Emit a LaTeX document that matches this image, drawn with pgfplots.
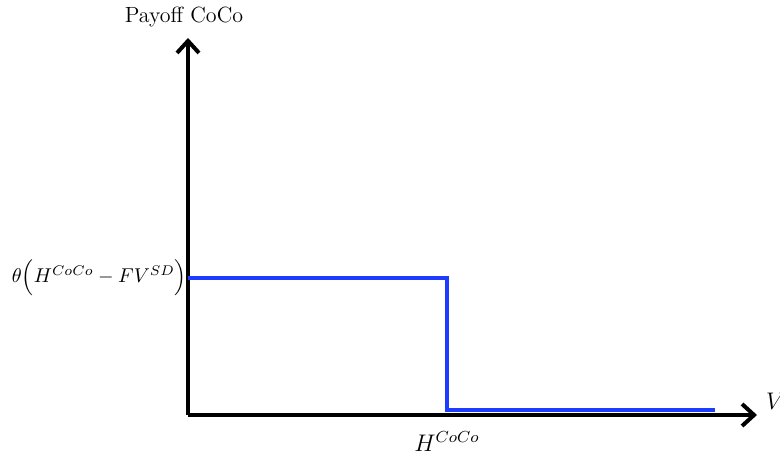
\documentclass[border=0pt]{standalone}
\usepackage{pgfplots}
\pgfplotsset{compat=1.18}
\usetikzlibrary{arrows.meta}
\begin{document}
\begin{tikzpicture}
\path[use as bounding box] (-94pt,-24.5pt) rectangle (296pt,207.5pt);
\begin{axis}[
  at={(0pt,0pt)}, anchor=origin,
  x=0.5pt, y=0.5pt,
  axis lines=middle,
  xmin=0, xmax=569, ymin=0, ymax=377,
  axis line style={line width=2pt, -{Straight Barb[length=6pt,width=11pt,line width=2pt]}},
  xtick={259}, xticklabels={$H^{CoCo}$},
  ytick={137}, yticklabels={$\theta\Big(H^{CoCo}-FV^{SD}\Big)$},
  major tick length=0pt,
  tick label style={font=\normalsize},
  xticklabel style={yshift=-5pt, font=\large},
  yticklabel style={xshift=3pt},
  xlabel={$V_t$}, ylabel={Payoff CoCo},
  every axis x label/.style={at={(axis cs:569,0)}, anchor=west, xshift=1pt, yshift=6pt, font=\large},
  every axis y label/.style={at={(axis cs:0,377)}, anchor=south, yshift=2pt, xshift=-2pt, font=\fontsize{11}{13}\selectfont},
  clip=false,
]
\addplot[line width=2pt, color={rgb,255:red,30;green,60;blue,255}] coordinates {(0,137) (259,137) (259,5) (527,5)};
\end{axis}
\end{tikzpicture}
\end{document}
